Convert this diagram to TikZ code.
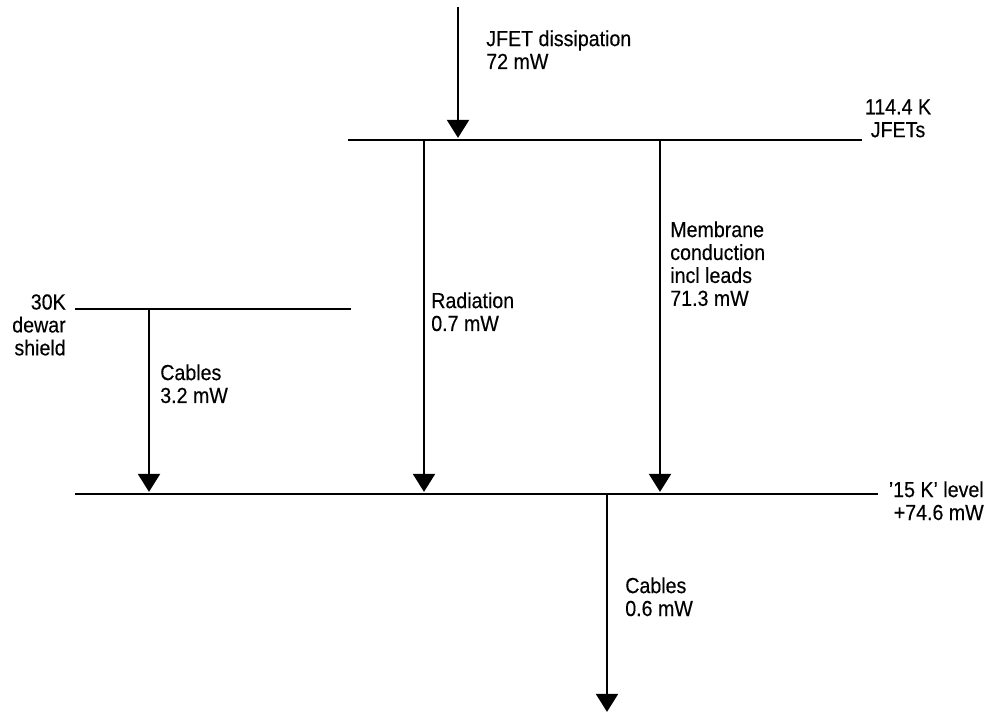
\documentclass[tikz,border=0pt]{standalone}
\usepackage{fontspec}
\setmainfont{Liberation Sans}[FakeStretch=0.9, FakeBold=0.3]
\usepackage{tikz}
\usetikzlibrary{arrows.meta, positioning, calc}
\definecolor{mydark}{RGB}{0,0,0}
\tikzset{
  level/.style={line width=1.5pt, color=mydark},
  flow/.style={-{Triangle[length=0.45cm, width=0.55cm]}, line width=1.5pt,
    color=mydark, shorten >=1.5pt},
  lbl/.style={font=\fontsize{15.5}{16.3}\selectfont, inner sep=0pt,
    align=left, anchor=north west}
}

\begin{document}
\begin{tikzpicture}[x=0.025cm, y=-0.025cm]
    \useasboundingbox (0,0) rectangle (991,715);
    % temperature levels
    \coordinate (jfetL) at (348,140);
    \coordinate (jfetR) at (862,140);
    \coordinate (shieldL) at (75,309);
    \coordinate (shieldR) at (351,309);
    \coordinate (lowL) at (75,494);
    \coordinate (lowR) at (878,494);
    \draw[level] (jfetL) -- (jfetR);
    \draw[level] (shieldL) -- (shieldR);
    \draw[level] (lowL) -- (lowR);
    % heat flows
    \coordinate (dissip) at (458,7);
    \coordinate (rad) at (424,140);
    \coordinate (memb) at (660,140);
    \coordinate (cabA) at (149,309);
    \coordinate (cabB) at (607,494);
    \coordinate (sink) at (607,714);
    \draw[flow] (dissip) -- (dissip |- jfetL);
    \draw[flow] (rad) -- (rad |- lowL);
    \draw[flow] (memb) -- (memb |- lowL);
    \draw[flow] (cabA) -- (cabA |- lowL);
    \draw[flow] (cabB) -- (sink);
    % labels
    \node[lbl] (dissiplbl) at (486,30) {JFET dissipation\\72 mW};
    \node[lbl, align=center, anchor=north] (jfetlbl) at (898,99) {114.4 K\\JFETs};
    \node[lbl, align=right, anchor=north east] (shieldlbl) at (66,294) {30K\\dewar\\shield};
    \node[lbl, align=right, anchor=north east] (lowlbl) at (984,481) {'15 K' level\\+74.6 mW};
    \node[lbl] (radlbl) at (431,292) {Radiation\\0.7 mW};
    \node[lbl] (memblbl) at (670,221) {Membrane\\conduction\\incl leads\\71.3 mW};
    \node[lbl] (cabAlbl) at (160,364) {Cables\\3.2 mW};
    \node[lbl] (cabBlbl) at (625,577) {Cables\\0.6 mW};
\end{tikzpicture}
\end{document}
